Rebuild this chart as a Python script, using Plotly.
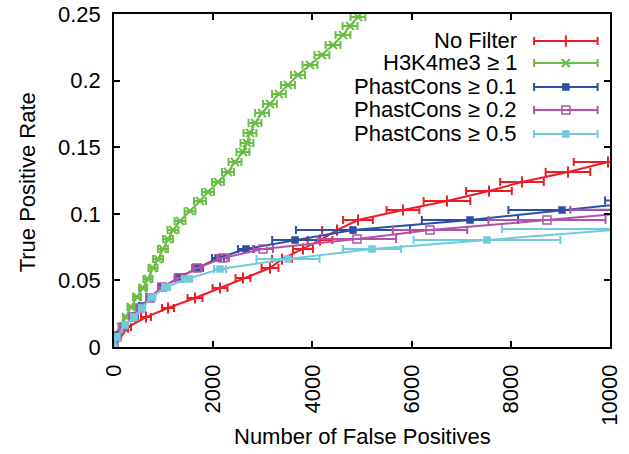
import plotly.graph_objects as go

# ---------------- data ----------------
series_names = ["No Filter", "H3K4me3 \u2265 1", "PhastCons \u2265 0.1",
                "PhastCons \u2265 0.2", "PhastCons \u2265 0.5"]

red_x = [0, 282, 645, 1089, 1633, 2137, 2601, 3145, 3387, 3810, 4153, 4496,
         4919, 5826, 6713, 7560, 8225, 9153, 9959]
red_y = [0, 0.015, 0.0225, 0.0293, 0.0368, 0.0443, 0.0518, 0.0593, 0.066,
         0.0736, 0.0803, 0.0878, 0.0953, 0.1029, 0.1096, 0.1171, 0.1239,
         0.1314, 0.1389]
red_err = [0, 60, 100, 120, 150, 150, 150, 170, 200, 200, 250, 300, 300, 330,
           470, 460, 440, 450, 690]

green_x = [0, 60, 141, 242, 343, 464, 585, 685, 786, 887, 988, 1089, 1189,
           1331, 1532, 1734, 1895, 2097, 2298, 2439, 2600, 2681, 2742, 2843,
           2984, 3145, 3326, 3508, 3709, 3951, 4193, 4415, 4617, 4758, 4919,
           5060]
green_y = [0, 0.0083, 0.015, 0.0225, 0.030, 0.0375, 0.0443, 0.051, 0.0593,
           0.066, 0.0736, 0.081, 0.0878, 0.0946, 0.102, 0.1096, 0.1164,
           0.1239, 0.1314, 0.1389, 0.1464, 0.1532, 0.1607, 0.1682, 0.1757,
           0.1824, 0.190, 0.1967, 0.2042, 0.2117, 0.2192, 0.2267, 0.2342,
           0.241, 0.2477, 0.2553]
green_err = [0, 40, 50, 60, 70, 80, 80, 90, 90, 100, 100, 100, 110, 110, 110,
             120, 120, 120, 120, 130, 130, 130, 130, 130, 140, 140, 140, 140,
             140, 150, 150, 150, 150, 150, 150, 150]

blue_x = [0, 81, 202, 423, 565, 726, 988, 1331, 1693, 2097, 2661, 3649, 4818,
          7177, 9032, 10900]
blue_y = [0, 0.009, 0.0158, 0.0233, 0.0308, 0.0375, 0.045, 0.0526, 0.0593,
          0.0668, 0.0736, 0.0803, 0.0878, 0.0953, 0.1029, 0.110]
blue_err = [0, 30, 40, 50, 60, 70, 80, 90, 100, 120, 160, 460, 1150, 970,
            1080, 1000]

magenta_x = [0, 60, 181, 383, 524, 726, 968, 1310, 1673, 2197, 3004, 4899,
             6371, 8729, 11100]
magenta_y = [0, 0.0075, 0.015, 0.0225, 0.0293, 0.0368, 0.045, 0.0518, 0.0593,
             0.0668, 0.0736, 0.0811, 0.0878, 0.0953, 0.103]
magenta_err = [0, 30, 40, 50, 60, 70, 80, 90, 100, 120, 200, 790, 750, 1180,
               1900]

cyan_x = [0, 60, 222, 403, 565, 766, 1048, 1472, 2137, 3508, 5201, 7520, 10300]
cyan_y = [0, 0.0075, 0.0165, 0.0225, 0.0293, 0.0375, 0.045, 0.051, 0.0586,
          0.066, 0.0736, 0.0803, 0.0885]
cyan_err = [0, 30, 40, 50, 60, 70, 80, 100, 120, 635, 585, 1480, 2480]

x_ticks = [0, 2000, 4000, 6000, 8000, 10000]
y_ticks = [0, 0.05, 0.1, 0.15, 0.2, 0.25]
y_tick_text = ["0", "0.05", "0.1", "0.15", "0.2", "0.25"]

# ---------------- styles ----------------
colors = ["#EE1C25", "#6BBE45", "#2D4EA2", "#B152A8", "#6ECCDD"]
symbols = ["line-ns-open", "x-thin-open", "square", "square-open", "square"]
sizes = [8, 8, 6, 8, 6]

FONT = "Liberation Sans, Arial, Helvetica, sans-serif"

all_data = [(red_x, red_y, red_err), (green_x, green_y, green_err),
            (blue_x, blue_y, blue_err), (magenta_x, magenta_y, magenta_err),
            (cyan_x, cyan_y, cyan_err)]

fig = go.Figure()
for i, (xs, ys, es) in enumerate(all_data):
    c = colors[i]
    fig.add_trace(go.Scatter(
        x=xs, y=ys, mode="lines+markers", name=series_names[i],
        line=dict(color=c, width=2),
        marker=dict(symbol=symbols[i], size=sizes[i], color=c,
                    line=dict(color=c, width=2 if i < 2 else 1.5)),
        error_x=dict(type="data", array=es, symmetric=True, color=c,
                     thickness=2, width=4),
        showlegend=False, cliponaxis=True,
    ))

# custom legend (text right, sample on the right) on an overlay axis
row_y = [0.919, 0.853, 0.781, 0.712, 0.640]
for i in range(5):
    c = colors[i]
    fig.add_trace(go.Scatter(
        x=[0.911], y=[row_y[i]], mode="markers", xaxis="x2", yaxis="y2",
        marker=dict(symbol=symbols[i], size=sizes[i], color=c,
                    line=dict(color=c, width=2 if i < 2 else 1.5)),
        error_x=dict(type="constant", value=0.064, color=c, thickness=2,
                     width=4),
        showlegend=False, hoverinfo="skip",
    ))
    fig.add_annotation(x=0.817, y=row_y[i], xref="paper", yref="paper",
                       text=series_names[i], showarrow=False,
                       xanchor="right", yanchor="middle",
                       font=dict(family=FONT, size=22, color="black"))

axis_common = dict(showgrid=False, zeroline=False, showline=True,
                   linecolor="black", linewidth=1.5, mirror="ticks",
                   ticks="inside", ticklen=6, tickwidth=1.5,
                   tickcolor="black", automargin=False,
                   tickfont=dict(family=FONT, size=22, color="black"))

fig.update_layout(
    width=629, height=454,
    margin=dict(l=114, r=19, t=14, b=107, autoexpand=False),
    paper_bgcolor="white", plot_bgcolor="white",
    xaxis=dict(range=[0, 10000], tickvals=x_ticks,
               ticktext=[str(v) for v in x_ticks], tickangle=-90,
               ticklabelstandoff=7, **axis_common),
    yaxis=dict(range=[0, 0.25], tickvals=y_ticks, ticktext=y_tick_text,
               ticklabelstandoff=7, **axis_common),
    xaxis2=dict(overlaying="x", range=[0, 1], visible=False),
    yaxis2=dict(overlaying="y", range=[0, 1], visible=False),
    showlegend=False,
)

fig.add_annotation(x=0.5, y=-0.27, xref="paper", yref="paper",
                   text="Number of False Positives", showarrow=False,
                   xanchor="center", yanchor="middle",
                   font=dict(family=FONT, size=22, color="black"))
fig.add_annotation(x=-0.175, y=0.495, xref="paper", yref="paper",
                   text="True Positive Rate", showarrow=False, textangle=-90,
                   xanchor="center", yanchor="middle",
                   font=dict(family=FONT, size=22, color="black"))

fig.write_html("out.html")
